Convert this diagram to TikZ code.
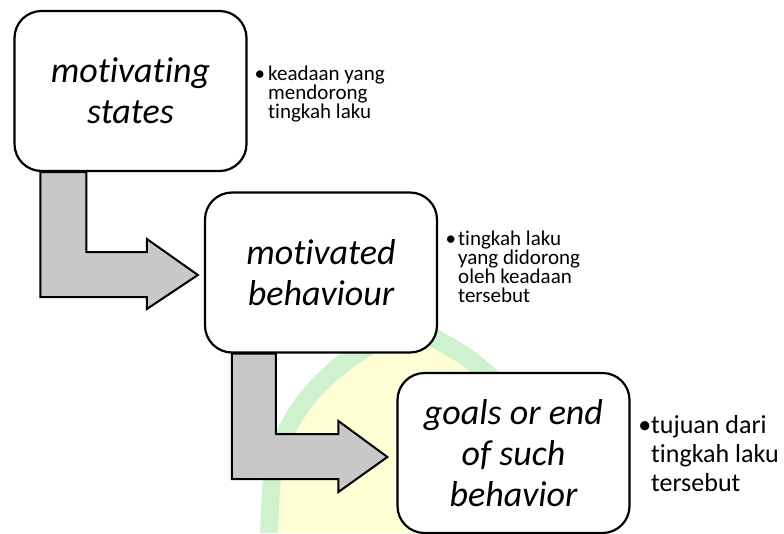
\documentclass[tikz,border=0pt]{standalone}
\usepackage{fontspec}
\setmainfont{Carlito}[Ligatures={NoCommon,NoContextual}]
\usetikzlibrary{calc}
\definecolor{arrowgray}{RGB}{200,200,200}
\definecolor{wmgreen}{RGB}{206,242,206}
\definecolor{wmyellow}{RGB}{255,255,214}
\newcommand\boxfont{\itshape\fontsize{36}{41}\selectfont}
\newcommand\sidefontA{\fontsize{21}{19}\selectfont\lineskiplimit=-20pt}
\newcommand\sidefontB{\fontsize{26}{29}\selectfont\lineskiplimit=-20pt}
\pgfdeclarelayer{wm}
\pgfdeclarelayer{back}
\pgfsetlayers{wm,back,main}
\tikzset{
  box/.style={draw, line width=2.2pt, rounded corners=27pt, fill=white,
    minimum width=232pt, minimum height=160pt, inner sep=0pt, align=center, font=\boxfont},
  bent/.style={draw, line width=2pt, fill=arrowgray, line join=miter},
  side/.style={anchor=base west, inner sep=0pt},
}
\begin{document}
\begin{tikzpicture}[x=1pt,y=-1pt]
\useasboundingbox (0,0) rectangle (784,533);
% watermark
\begin{pgfonlayer}{wm}
\fill[wmgreen] (260,533) -- (262,490) .. controls (266,410) and (330,345) .. (409,318)
  .. controls (488,345) and (552,410) .. (556,490) -- (558,533) -- cycle;
\fill[wmyellow] (278,533) -- (280,490) .. controls (284,418) and (343,362) .. (409,338)
  .. controls (475,362) and (534,418) .. (538,490) -- (540,533) -- cycle;
\end{pgfonlayer}
% boxes
\node[box] (b1) at (130.5,91) {motivating\\states};
\node[box] (b2) at (321,272.5) {motivated\\behaviour};
\node[box] (b3) at (513.5,453) {goals or end\\of such\\behavior};
% bent arrows
\begin{pgfonlayer}{back}
\draw[bent] ($(b1.south west)+(27,0)$) |- ($(b2.west)+(-57,24.5)$)
  -- ($(b2.west)+(-57,36.5)$) -- ($(b2.west)+(-6,2.5)$) -- ($(b2.west)+(-57,-33.5)$)
  -- ($(b2.west)+(-57,-20.5)$) -| ($(b1.south west)+(73,0)$) -- cycle;
\draw[bent] ($(b2.south west)+(28,0)$) |- ($(b3.west)+(-58,26)$)
  -- ($(b3.west)+(-58,39)$) -- ($(b3.west)+(-9,4)$) -- ($(b3.west)+(-58,-32)$)
  -- ($(b3.west)+(-58,-19)$) -| ($(b2.south west)+(72,0)$) -- cycle;
\end{pgfonlayer}
% side texts
\node[side, font=\sidefontA] (t1) at (268,80)
  {\vtop{\hbox{\llap{•\hspace{3pt}}keadaan yang}\hbox{mendorong}\hbox{tingkah laku}}};
\node[side, font=\sidefontA] (t2) at (458,245)
  {\vtop{\hbox{\llap{•\hspace{2pt}}tingkah laku}\hbox{yang didorong}\hbox{oleh keadaan}\hbox{tersebut}}};
\node[side, font=\sidefontB] (t3) at (651,433)
  {\vtop{\hbox{\llap{•}tujuan dari}\hbox{tingkah laku}\hbox{tersebut}}};
\end{tikzpicture}
\end{document}
